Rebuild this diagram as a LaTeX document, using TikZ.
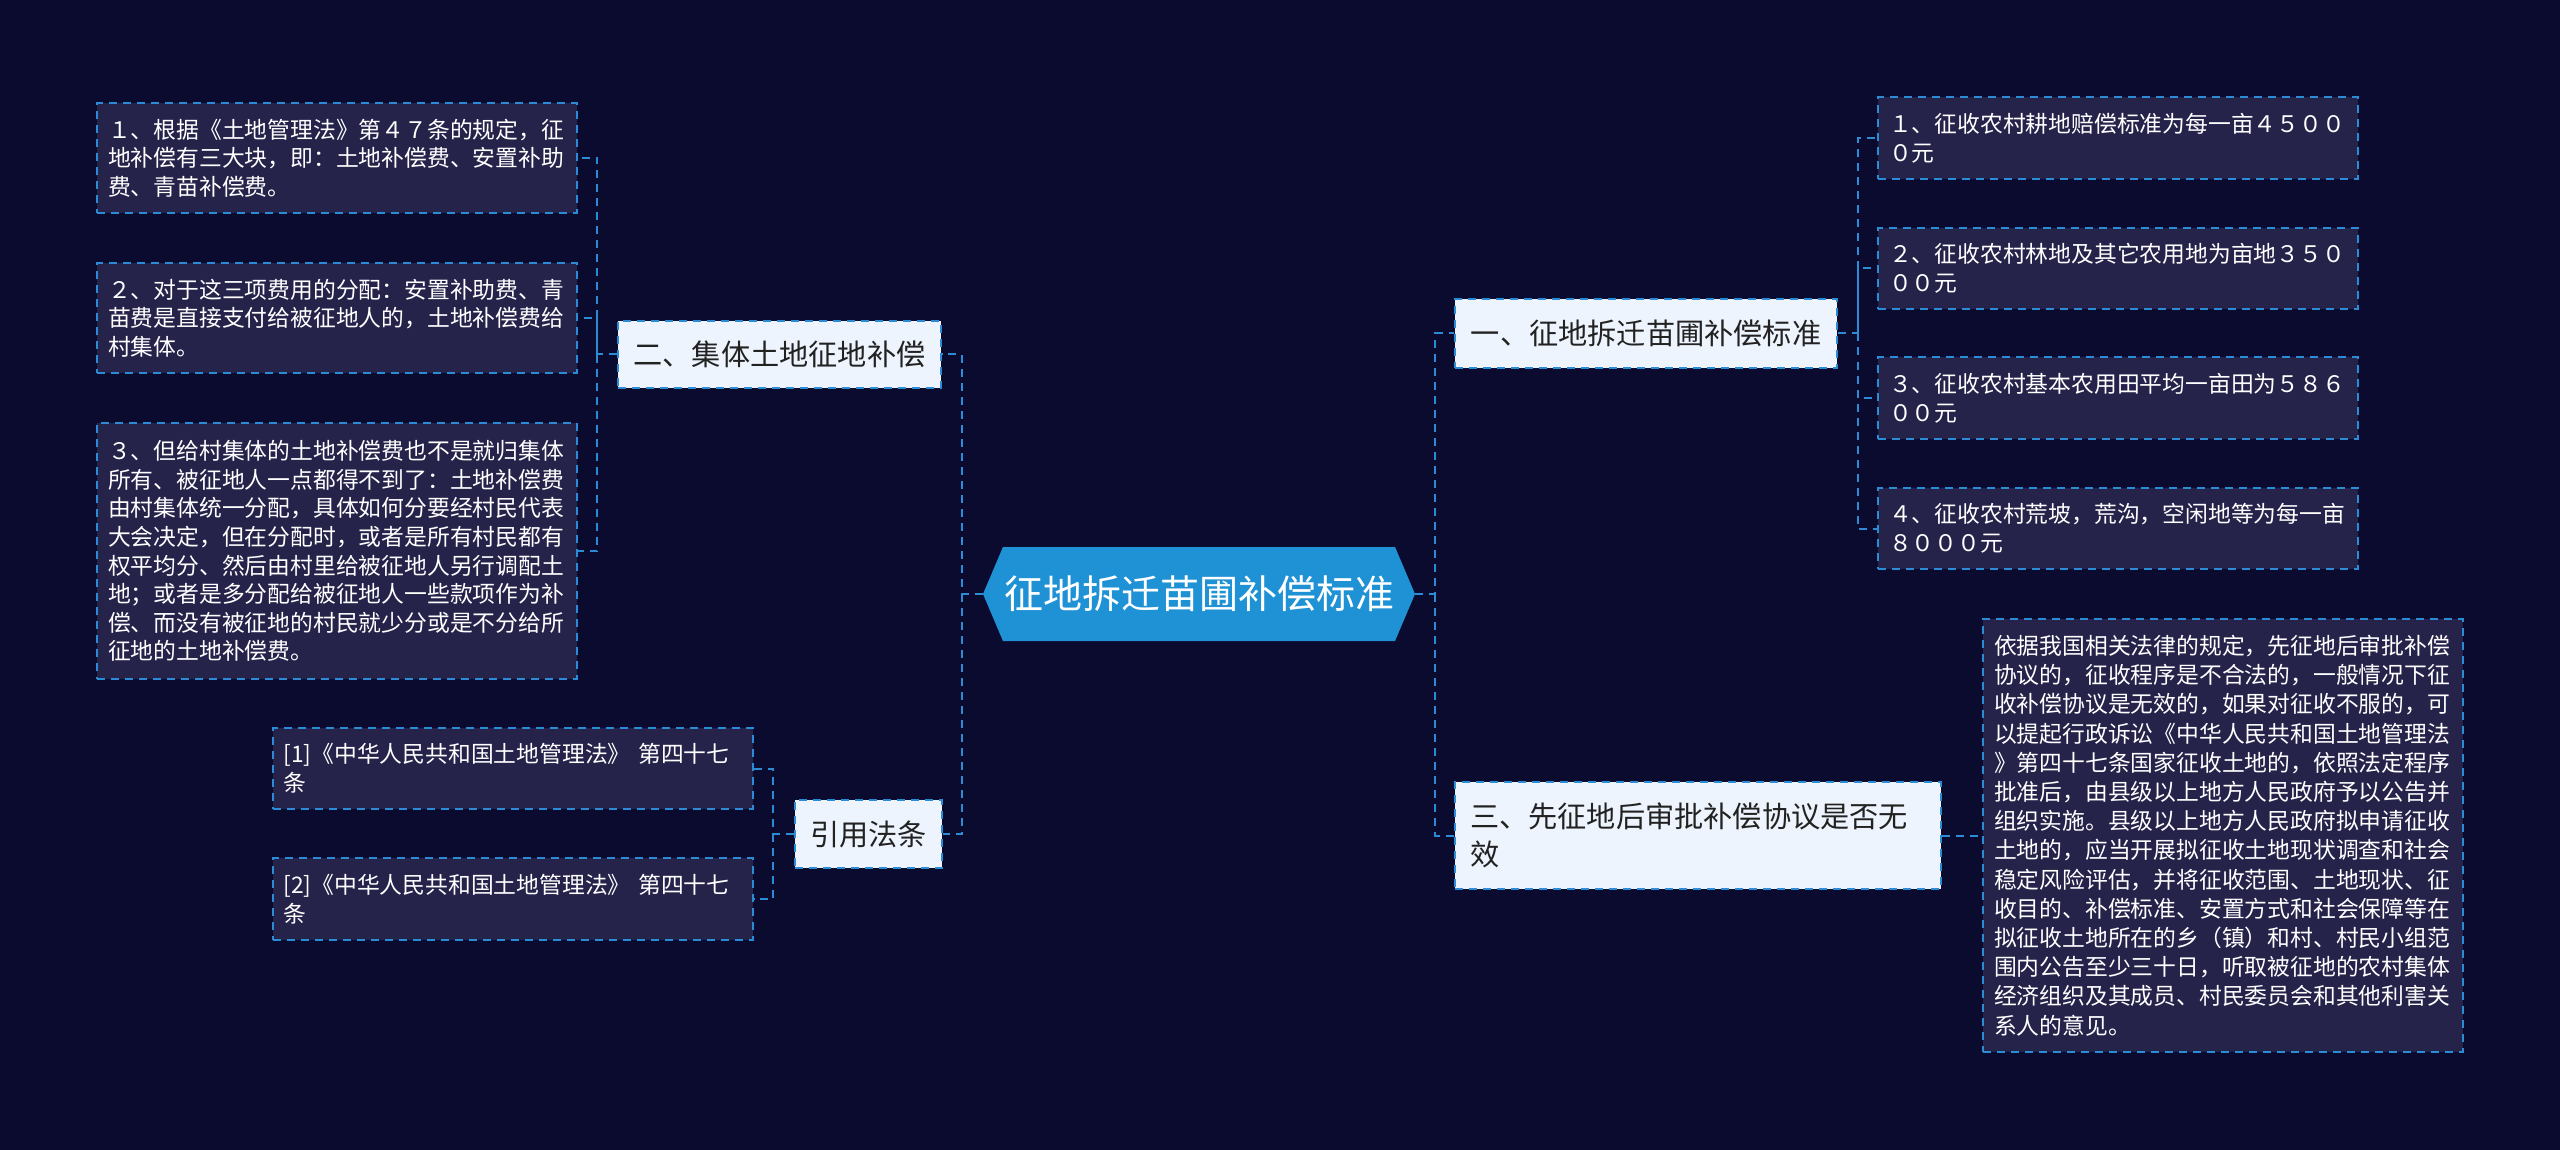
\documentclass[tikz,border=0pt]{standalone}
\usepackage{fontspec}
\newfontfamily\cjk{Noto Sans CJK SC}
\usetikzlibrary{shapes.symbols}
\definecolor{fond}{HTML}{0B0A2F}
\definecolor{boite}{HTML}{26234B}
\definecolor{trait}{HTML}{2B8CD5}
\definecolor{clair}{HTML}{EEF4FD}
\definecolor{centre}{HTML}{1F91D5}
\definecolor{encre}{HTML}{222222}

\begin{document}
\begin{tikzpicture}[x=0.5pt,y=-0.5pt,
  lien/.style={trait, line width=1pt, dash pattern=on 4pt off 3pt},
  feuille/.style={draw=trait, line width=1pt, dash pattern=on 4pt off 3pt, fill=boite, text=white,
    font=\cjk\fontsize{11.4}{14.3}\selectfont, align=left, text width=229pt, inner xsep=5.5pt, inner ysep=0pt},
  branche/.style={draw=trait, line width=1pt, dash pattern=on 4pt off 3pt, fill=clair, text=encre,
    font=\cjk\fontsize{14.6}{19}\selectfont, inner sep=0pt},
  racine/.style={signal, signal to=east and west, signal pointer angle=134, fill=centre, text=white,
    font=\cjk\fontsize{19.5}{23}\selectfont, minimum width=216pt, minimum height=47pt, inner sep=0pt}]

% Fond
\fill[fond] (0,0) rectangle (2560,1150);
\useasboundingbox (0,0) rectangle (2560,1150);

% Noeud central
\node[racine] (racine) at (1199,594) {征地拆迁苗圃补偿标准};

% Branches principales
\node[branche, minimum width=191pt, minimum height=34.5pt] (un) at (1646,333.5) {一、征地拆迁苗圃补偿标准};
\node[branche, minimum width=161.5pt, minimum height=33.5pt] (deux) at (779.5,354.5) {二、集体土地征地补偿};
\node[branche, minimum width=73.5pt, minimum height=34pt] (cite) at (868.5,834) {引用法条};
\node[branche, text width=228pt, inner xsep=7.5pt, align=left, minimum height=53.5pt] (trois) at (1698,835.5) {三、先征地后审批补偿协议是否无\\效};

% Feuilles a gauche
\node[feuille, minimum height=55pt] (g1) at (337,158) {１、根据《土地管理法》第４７条的规定，征\\地补偿有三大块，即：土地补偿费、安置补助\\费、青苗补偿费。};
\node[feuille, minimum height=55pt] (g2) at (337,318) {２、对于这三项费用的分配：安置补助费、青\\苗费是直接支付给被征地人的，土地补偿费给\\村集体。};
\node[feuille, minimum height=128pt] (g3) at (337,551) {３、但给村集体的土地补偿费也不是就归集体\\所有、被征地人一点都得不到了：土地补偿费\\由村集体统一分配，具体如何分要经村民代表\\大会决定，但在分配时，或者是所有村民都有\\权平均分、然后由村里给被征地人另行调配土\\地；或者是多分配给被征地人一些款项作为补\\偿、而没有被征地的村民就少分或是不分给所\\征地的土地补偿费。};

% Références
\node[feuille, minimum height=40.5pt] (r1) at (512.5,768.5) {[1]《中华人民共和国土地管理法》 第四十七\\条};
\node[feuille, minimum height=41pt] (r2) at (512.5,899) {[2]《中华人民共和国土地管理法》 第四十七\\条};

% Feuilles a droite
\node[feuille, minimum height=41pt] (d1) at (2118,138) {１、征收农村耕地赔偿标准为每一亩４５００\\０元};
\node[feuille, minimum height=40.5pt] (d2) at (2118,268.5) {２、征收农村林地及其它农用地为亩地３５０\\００元};
\node[feuille, minimum height=41pt] (d3) at (2118,398) {３、征收农村基本农用田平均一亩田为５８６\\００元};
\node[feuille, minimum height=40.5pt] (d4) at (2118,528.5) {４、征收农村荒坡，荒沟，空闲地等为每一亩\\８０００元};
\node[feuille, minimum height=216.5pt, font=\cjk\fontsize{11.4}{14.6}\selectfont] (avis) at (2223,835.5) {依据我国相关法律的规定，先征地后审批补偿\\协议的，征收程序是不合法的，一般情况下征\\收补偿协议是无效的，如果对征收不服的，可\\以提起行政诉讼《中华人民共和国土地管理法\\》第四十七条国家征收土地的，依照法定程序\\批准后，由县级以上地方人民政府予以公告并\\组织实施。县级以上地方人民政府拟申请征收\\土地的，应当开展拟征收土地现状调查和社会\\稳定风险评估，并将征收范围、土地现状、征\\收目的、补偿标准、安置方式和社会保障等在\\拟征收土地所在的乡（镇）和村、村民小组范\\围内公告至少三十日，听取被征地的农村集体\\经济组织及其成员、村民委员会和其他利害关\\系人的意见。};

% Liens du centre
\coordinate (busg) at (962,594);
\coordinate (busd) at (1435,594);
\draw[lien] (racine.west) -- (busg) |- (deux.east);
\draw[lien] (busg) |- (cite.east);
\draw[lien] (racine.east) -- (busd) |- (un.west);
\draw[lien] (busd) |- (trois.west);

% Liens des branches
\coordinate (bus2) at (597,354.5);
\draw[lien] (deux.west) -- (bus2) |- (g1.east);
\draw[lien] (bus2) |- (g2.east);
\draw[lien] (bus2) |- (g3.east);
\coordinate (bus3) at (773,834);
\draw[lien] (cite.west) -- (bus3) |- (r1.east);
\draw[lien] (bus3) |- (r2.east);
\coordinate (bus1) at (1858,333.5);
\draw[lien] (un.east) -- (bus1) |- (d1.west);
\draw[lien] (bus1) |- (d2.west);
\draw[lien] (bus1) |- (d3.west);
\draw[lien] (bus1) |- (d4.west);
\draw[lien] (trois.east) -- (avis.west);

\end{tikzpicture}
\end{document}
